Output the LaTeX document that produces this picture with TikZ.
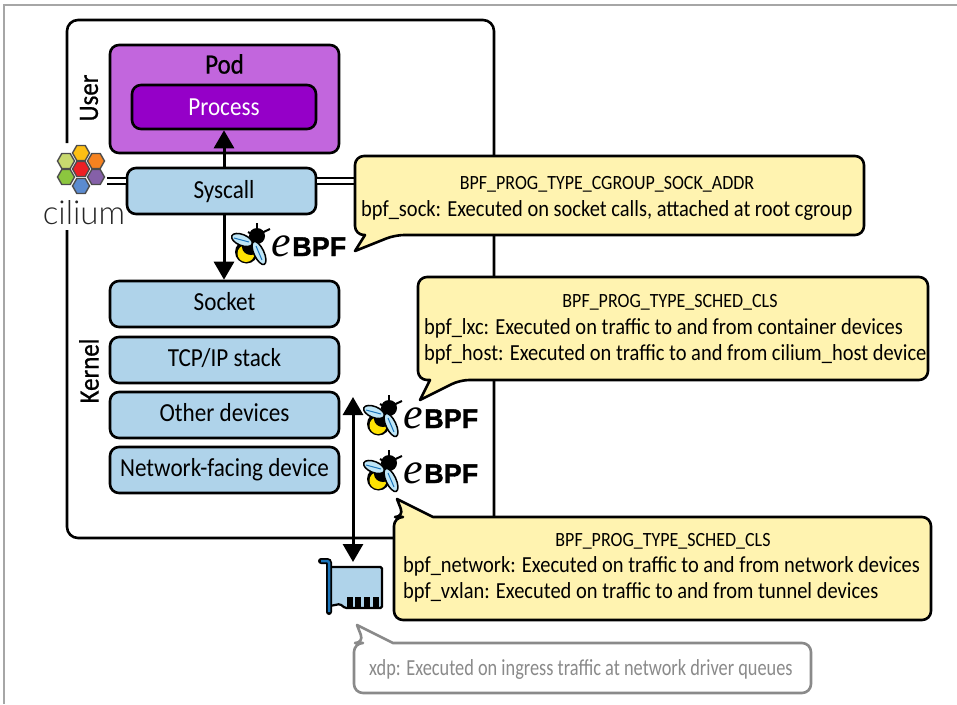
\documentclass[tikz,border=0pt]{standalone}
\usepackage{fontspec}
\setmainfont{Carlito}[FakeStretch=0.89]
\newfontfamily\labelfont{Carlito}[FakeStretch=0.89, FakeBold=0.7]
\newfontfamily\logofont{Lato Light}
\newfontfamily\bpffont{Liberation Sans}[BoldFont={Liberation Sans Bold}, BoldFeatures={FakeBold=1.5}]
\newfontfamily\efont{Liberation Serif}[ItalicFont={Liberation Serif Italic}]
\usetikzlibrary{arrows.meta}
\usetikzlibrary{calc}

\definecolor{podfill}{HTML}{C266DD}
\definecolor{procfill}{HTML}{9500C8}
\definecolor{layerfill}{HTML}{AFD3EA}
\definecolor{notefill}{HTML}{FFF3B0}
\definecolor{notegray}{HTML}{8A8A8A}
\definecolor{wingfill}{HTML}{BFE6F7}
\definecolor{slotblue}{HTML}{1B75BB}

\tikzset{
    layer/.style = {draw, line width=2.6pt, rounded corners=9pt, fill=layerfill, inner sep=0pt,
        text height=17pt, text depth=5pt, font=\fontsize{26}{26}\selectfont},
    note/.style = {draw, line width=2.6pt, line join=round, rounded corners=9pt, fill=notefill},
    notetext/.style = {inner sep=0pt, font=\fontsize{23}{23}\selectfont},
    notetitle/.style = {inner sep=0pt, font=\fontsize{20.2}{20.2}\selectfont},
    flow/.style = {line width=3pt, -{Triangle[length=18pt,width=20pt]}},
    hexcell/.style = {draw=black!70, line width=1.4pt},
    bridge/.style = {black, line width=2.2pt, double=white, double distance=3.5pt},
    ebpf/.pic = {
        \draw[black, line width=2pt] (25,12) -- (25,0);
        \draw[black, line width=2pt] (25,12) -- (38,6);
        \draw[black, line width=2pt] (16,9) -- (25,14);
        \fill[black] (14.5,29) circle (11.5);
        \fill[yellow!85!orange] (14,30.5) circle (8.5);
        \fill[black] (19,24) ellipse (9 and 8);
        \fill[black] (25,13) circle (8);
        \filldraw[fill=wingfill, draw=black, line width=1.5pt, rotate around={-22:(10,17)}] (10,17) ellipse (11 and 5.5);
        \draw[slotblue, line width=1pt] (2,15) -- (17,19);
        \filldraw[fill=wingfill, draw=black, line width=1.5pt, rotate around={-65:(27,30)}] (27,30) ellipse (12.5 and 5);
        \draw[slotblue, line width=1pt] (24,23) -- (30,37);
        \node[inner sep=0pt, anchor=base west, font={\efont\itshape\fontsize{44}{44}\selectfont}] (-e) at (39,33) {e};
        \node[inner sep=0pt, anchor=base west, font={\bpffont\bfseries\fontsize{27}{27}\selectfont}] (-bpf) at (60,33) {BPF};
    }
}

\begin{document}
\begin{tikzpicture}[x=1pt, y=-1pt]
    \useasboundingbox (0,0) rectangle (957,704);
    \draw[black!35, line width=1.2pt] (957,5) -- (4,5) -- (4,704);

    % host outline
    \draw[black, line width=2.6pt, rounded corners=11pt] (67,143) -- (67,20) -- (494,20) -- (494,538) -- (67,538) -- (67,230);
    \node[rotate=90, font={\labelfont\fontsize{28}{28}\selectfont}, inner sep=0pt] (user) at (89,98) {User};
    \node[rotate=90, font={\labelfont\fontsize{28}{28}\selectfont}, inner sep=0pt] (kernel) at (89,371) {Kernel};

    % layers
    \node[layer, fill=podfill, minimum width=229pt, minimum height=108pt] (pod) at (224.5,99) {};
    \node[font={\labelfont\fontsize{28}{28}\selectfont}, inner sep=0pt] (podlabel) at (224.5,64) {Pod};
    \node[layer, fill=procfill, text=white, text height=16pt, text depth=0pt, minimum width=184pt, minimum height=44pt] (process) at (224,107) {Process};
    \node[layer, text height=17pt, text depth=3pt, minimum width=189pt, minimum height=46pt] (syscall) at (221.5,191) {\hspace{5pt}Syscall};
    \node[layer, minimum width=229pt, minimum height=46pt] (socket) at (224.5,304) {Socket};
    \node[layer, minimum width=229pt, minimum height=46pt] (tcpip) at (224.5,360) {TCP/IP stack};
    \node[layer, minimum width=229pt, minimum height=46pt] (other) at (224.5,415) {Other devices};
    \node[layer, minimum width=229pt, minimum height=46pt] (netdev) at (224.5,470) {Network-facing device};

    % cilium logo
    \foreach \hx/\hy/\hc in {81/153/FDBF14, 66/161/C8D96F, 96/161/F58220, 81/169/ED2024, 66/177/8CC63F, 96/177/8560A8, 81/186/5B8BD0} {
        \definecolor{hexc}{HTML}{\hc}
        \filldraw[hexcell, fill=hexc] (\hx-8.5,\hy) -- (\hx-4.2,\hy-7.5) -- (\hx+4.2,\hy-7.5) -- (\hx+8.5,\hy) -- (\hx+4.2,\hy+7.5) -- (\hx-4.2,\hy+7.5) -- cycle;
    }
    \node[font={\logofont\fontsize{33}{33}\selectfont}, text=black!85, inner sep=0pt] (cilium) at (84,213) {cilium};
    \coordinate (ciliumport) at (107,181);
    \coordinate (noteport) at (356,181);
    \draw[bridge] (syscall.west |- ciliumport) -- (ciliumport);
    \draw[bridge] (syscall.east |- noteport) -- (noteport);

    % traffic
    \coordinate (wireup) at (353,397);
    \coordinate (wiredown) at (353,562);
    \draw[flow] (process.south |- syscall.north) -- (process.south);
    \draw[flow] (process.south |- syscall.south) -- (process.south |- socket.north);
    \draw[line width=3pt, {Triangle[length=18pt,width=20pt]}-{Triangle[length=18pt,width=20pt]}] (wireup) -- (wiredown);

    \pic at (232,223) {ebpf};
    \pic at (364,395) {ebpf};
    \pic at (364,450) {ebpf};

    % notes
    \draw[note] (355,200) -- (355,156) -- (864,156) -- (864,235) -- (395,235) [sharp corners] -- (355,251) -- (365,235) [rounded corners=9pt] -- (355,235) -- cycle;
    \node[notetitle] (sockaddr) at (607,184) {BPF\_PROG\_TYPE\_CGROUP\_SOCK\_ADDR};
    \node[notetext, anchor=base west] (sock) at (361,216) {bpf\_sock: Executed on socket calls, attached at root cgroup};

    \draw[note] (418,330) -- (418,277) -- (928,277) -- (928,380) -- (460,380) [sharp corners] -- (420,400) -- (430,380) [rounded corners=9pt] -- (418,380) -- cycle;
    \node[notetitle] (schedcls) at (670,302) {BPF\_PROG\_TYPE\_SCHED\_CLS};
    \node[notetext, anchor=base west] (lxc) at (424,334) {bpf\_lxc: Executed on traffic to and from container devices};
    \node[notetext, anchor=base west] (host) at (424,360) {bpf\_host: Executed on traffic to and from cilium\_host device};

    \draw[note] (394,570) -- (394,517) -- (404,517) [sharp corners] -- (397,499) -- (433,517) [rounded corners=9pt] -- (931,517) -- (931,620) -- (394,620) -- cycle;
    \node[notetitle] (schedclstwo) at (663,541) {BPF\_PROG\_TYPE\_SCHED\_CLS};
    \node[notetext, anchor=base west] (network) at (403,572) {bpf\_network: Executed on traffic to and from network devices};
    \node[notetext, anchor=base west] (vxlan) at (403,598) {bpf\_vxlan: Executed on traffic to and from tunnel devices};

    \draw[note, draw=notegray, fill=white] (354,670) -- (354,643) -- (364,643) [sharp corners] -- (357,625) -- (393,643) [rounded corners=9pt] -- (811,643) -- (811,693) -- (354,693) -- cycle;
    \node[notetext, text=notegray, anchor=base west, xscale=0.895] (xdp) at (369,675) {xdp: Executed on ingress traffic at network driver queues};

    % network card
    \draw[black, line width=2.2pt, fill=layerfill, rounded corners=1.5pt] (330,567) -- (382,567) -- (382,608) -- (345,608) -- (340,604) -- (330,606) -- cycle;
    \draw[black, line width=6pt, line cap=round, rounded corners=2pt] (321,561) -- (329,561) -- (329,612);
    \draw[slotblue, line width=2.5pt, rounded corners=2pt] (321,561) -- (329,561) -- (329,612);
    \foreach \fx in {350,358,367,376}
        \fill[black] (\fx-3,597) rectangle (\fx+3,608);
\end{tikzpicture}
\end{document}
